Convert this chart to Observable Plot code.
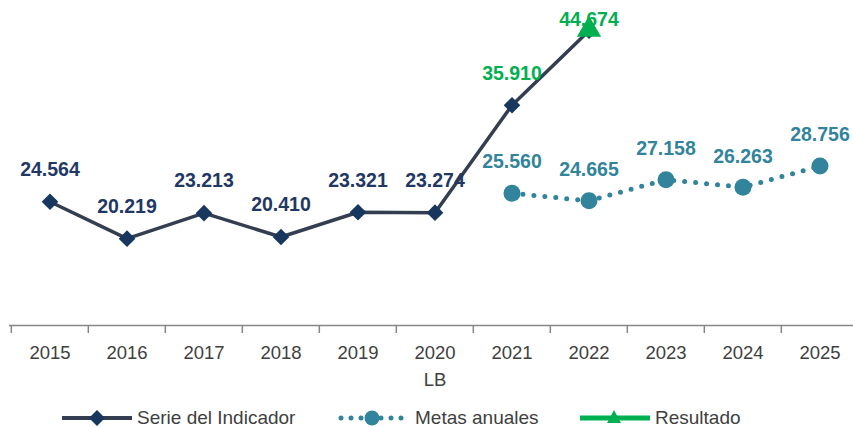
<!DOCTYPE html>
<html><head><meta charset="utf-8">
<script src="https://cdn.jsdelivr.net/npm/d3@7"></script>
<script src="https://cdn.jsdelivr.net/npm/@observablehq/plot@0.6"></script>
<style>
body{margin:0;background:#fff;font-family:"Liberation Sans",Arial,sans-serif;}
#wrap{position:relative;width:853px;height:427px;overflow:hidden;background:#fff}
#legend{position:absolute;left:0;top:405px;width:853px;height:26px}
.item{position:absolute;top:0;height:26px;display:flex;align-items:center;font-size:19px;color:#404040;white-space:nowrap}
.item svg{display:block}
</style></head><body><div id="wrap"><div id="chart"></div><div id="legend"></div></div>
<script>
const years = ["2015","2016","2017","2018","2019","2020","2021","2022","2023","2024","2025"];
const serieYears = ["2015","2016","2017","2018","2019","2020","2021","2022"];
const serieValues = [24.564, 20.219, 23.213, 20.410, 23.321, 23.274, 35.910, 44.674];
const metasYears = ["2021","2022","2023","2024","2025"];
const metasValues = [25.560, 24.665, 27.158, 26.263, 28.756];
const resultadoYears = ["2022"];
const resultadoValues = [44.674];
const baselineYear = "2020";
const baselineLabel = "LB";
const seriesNames = ["Serie del Indicador", "Metas anuales", "Resultado"];
const yDomain = [10, 48];

const C = {serie:"#333F50", diamond:"#17375E", navyText:"#1F3864", metas:"#31849B", green:"#00B050", axis:"#868686", text:"#404040"};
const font = '"Liberation Sans", Arial, sans-serif';
const fmt = v => v.toFixed(3);

const serie = serieYears.map((year, i) => ({year, value: serieValues[i]}));
const metas = metasYears.map((year, i) => ({year, value: metasValues[i]}));
const resultado = resultadoYears.map((year, i) => ({year, value: resultadoValues[i]}));
const lastSerie = serie[serie.length - 1];
const serieLabels = serie.filter(d => d !== lastSerie);

const xRange = [9, 860];
const bw = (xRange[1] - xRange[0]) / years.length;

const plot = Plot.plot({
  width: 853, height: 405,
  marginLeft: 9, marginRight: 0, marginTop: 0, marginBottom: 0,
  style: {fontFamily: font, background: "white"},
  x: {type: "band", domain: years, range: xRange, padding: 0, axis: null},
  y: {domain: yDomain, range: [325, 2], axis: null},
  marks: [
    Plot.ruleY([yDomain[0]], {stroke: C.axis, strokeWidth: 1.5}),
    Plot.ruleX(years, {x: d => d, y1: () => yDomain[0], y2: () => yDomain[0], dx: -bw / 2, insetBottom: -8, stroke: C.axis, strokeWidth: 1.5}),
    Plot.text(years, {x: d => d, y: () => yDomain[0], dy: 28, text: d => d, fontSize: 18.5, fill: C.text}),
    Plot.text([baselineYear], {x: d => d, y: () => yDomain[0], dy: 55, text: () => baselineLabel, fontSize: 18.5, fill: C.text}),
    Plot.line(metas, {x: "year", y: "value", stroke: C.metas, strokeWidth: 5, strokeDasharray: "0 11", strokeLinecap: "round"}),
    Plot.dot(metas, {x: "year", y: "value", r: 8.5, fill: C.metas, stroke: "none"}),
    Plot.line(serie, {x: "year", y: "value", stroke: C.serie, strokeWidth: 3.5}),
    Plot.dot(serie, {x: "year", y: "value", symbol: "diamond2", r: 7.5, fill: C.diamond, stroke: "none"}),
    Plot.dot(resultado, {x: "year", y: "value", symbol: "triangle", r: 9, dy: -1, fill: C.green, stroke: "none"}),
    Plot.text(serieLabels, {x: "year", y: "value", dy: -32, text: d => fmt(d.value), fontSize: 19.5, fontWeight: "bold", fill: d => d.year >= "2021" ? C.green : C.navyText}),
    Plot.text([lastSerie], {x: "year", y: "value", dy: -11, text: d => fmt(d.value), fontSize: 19.5, fontWeight: "bold", fill: C.green}),
    Plot.text(metas, {x: "year", y: "value", dy: -31, text: d => fmt(d.value), fontSize: 19.5, fontWeight: "bold", fill: C.metas})
  ]
});
document.getElementById("chart").appendChild(plot);

// Legend
const legend = d3.select("#legend");
const items = [
  {name: seriesNames[0], left: 62, w: 70, gap: 5, draw: g => {
    g.append("line").attr("x1", 0).attr("x2", 70).attr("y1", 13).attr("y2", 13).attr("stroke", C.serie).attr("stroke-width", 4);
    g.append("path").attr("d", "M35,5L43,13L35,21L27,13Z").attr("fill", C.diamond);
  }},
  {name: seriesNames[1], left: 338, w: 67, gap: 10, draw: g => {
    g.append("line").attr("x1", 3).attr("x2", 64).attr("y1", 13).attr("y2", 13).attr("stroke", C.metas).attr("stroke-width", 5).attr("stroke-dasharray", "0 10").attr("stroke-linecap", "round");
    g.append("circle").attr("cx", 34).attr("cy", 13).attr("r", 7.5).attr("fill", C.metas);
  }},
  {name: seriesNames[2], left: 580, w: 70, gap: 5, draw: g => {
    g.append("line").attr("x1", 0).attr("x2", 70).attr("y1", 13).attr("y2", 13).attr("stroke", C.green).attr("stroke-width", 5);
    g.append("path").attr("d", "M34,5L41,18L27,18Z").attr("fill", C.green);
  }}
];
for (const it of items) {
  const div = legend.append("div").attr("class", "item").style("left", it.left + "px");
  const svg = div.append("svg").attr("width", it.w).attr("height", 26);
  it.draw(svg);
  div.append("span").style("margin-left", it.gap + "px").text(it.name);
}
</script></body></html>
